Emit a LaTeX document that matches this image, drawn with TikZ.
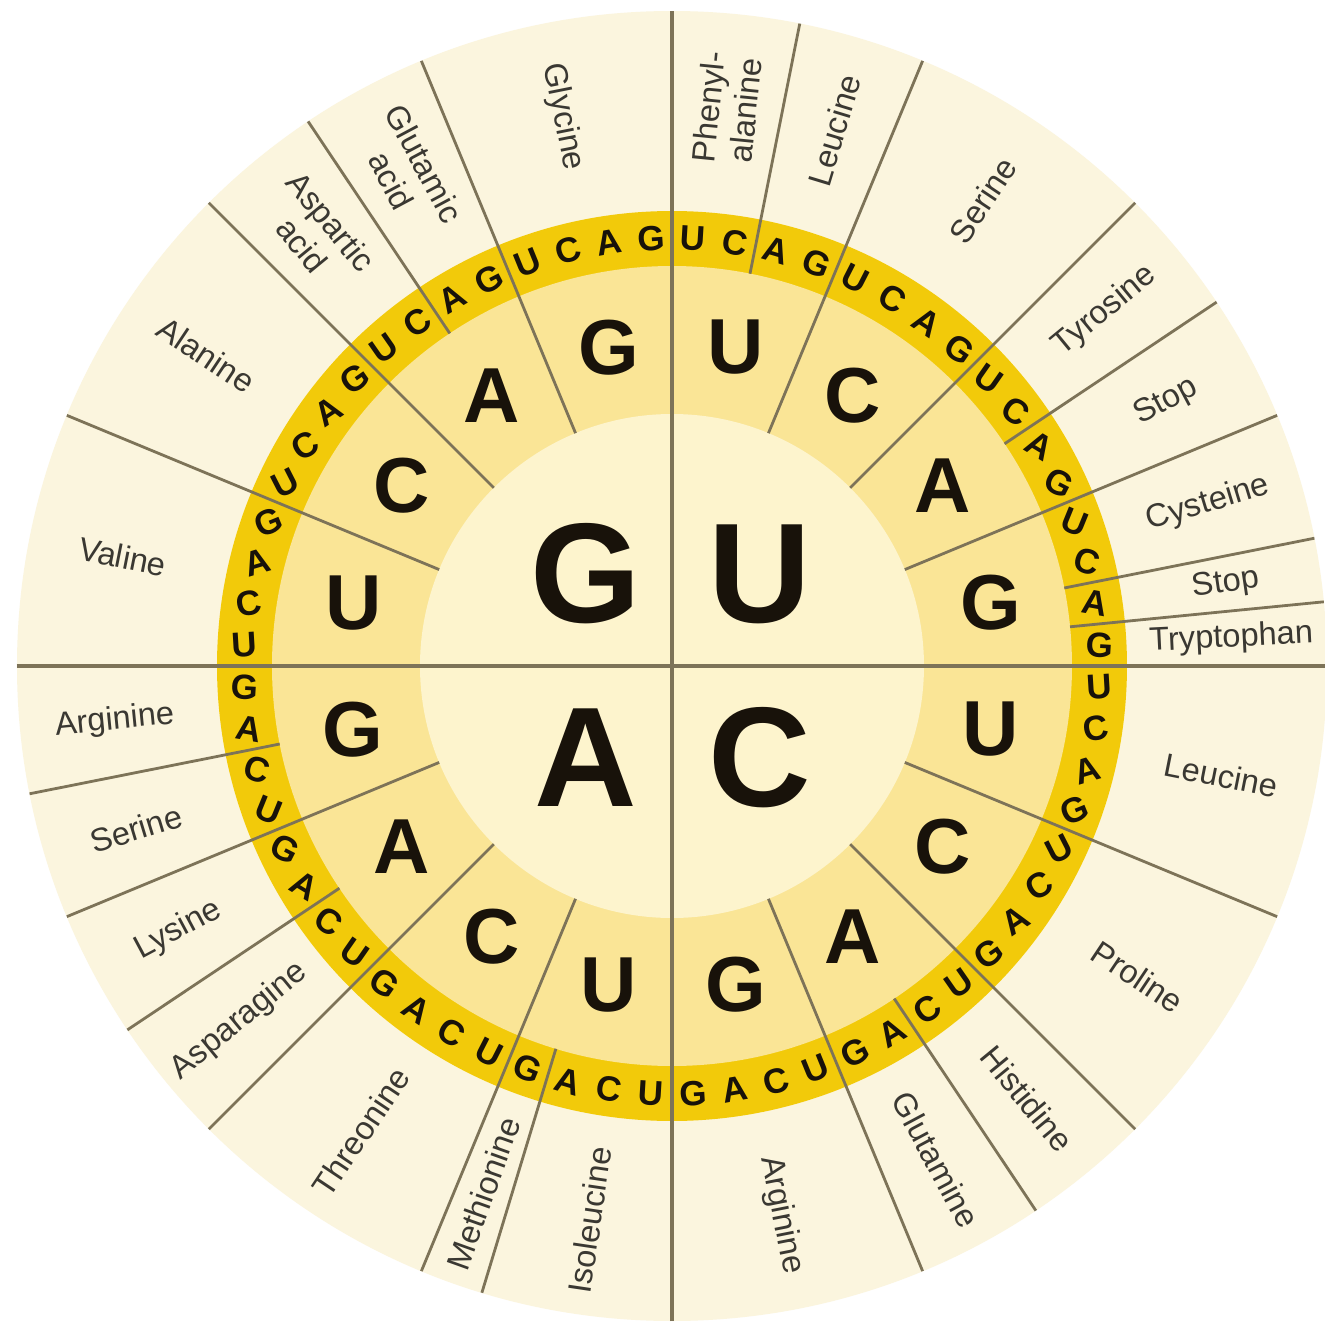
\documentclass[tikz,border=0pt]{standalone}
\usepackage{fontspec}
\setmainfont{Liberation Sans}
\definecolor{outerc}{RGB}{251,245,222}
\definecolor{bandc}{RGB}{242,202,10}
\definecolor{ringc}{RGB}{250,229,150}
\definecolor{innerc}{RGB}{253,244,205}
\definecolor{linec}{RGB}{125,115,88}
\definecolor{labc}{RGB}{58,56,50}
\definecolor{letc}{RGB}{24,18,10}
\begin{document}
\begin{tikzpicture}[x=0.5pt,y=0.5pt,
  lab/.style={font=\fontsize{16.3}{18.5}\selectfont, text=labc, inner sep=0pt, align=center},
  bandl/.style={font=\bfseries\fontsize{17.5}{17.5}\selectfont, text=letc, inner sep=0pt},
  ringl/.style={font=\bfseries\fontsize{39}{39}\selectfont, text=letc, inner sep=0pt},
  bigl/.style={font=\bfseries\fontsize{71}{71}\selectfont, text=letc, inner sep=0pt},
  qline/.style={draw=linec, line width=2pt},
  sline/.style={draw=linec, line width=1.4pt}]
\useasboundingbox[fill=white] (-672,-664) rectangle (653,666);
% rings
\fill[outerc] (0,0) circle (655);
\fill[bandc] (0,0) circle (455);
\fill[ringc] (0,0) circle (400);
\fill[innerc] (0,0) circle (252);
% quadrant lines
\draw[qline] (-655,0) -- (655,0);
\draw[qline] (0,-655) -- (0,655);
% second-base separators
\foreach \a in {67.5,45,22.5,-22.5,-45,-67.5,-112.5,-135,-157.5,157.5,135,112.5}
  \draw[sline] (\a:252) -- (\a:655);
% amino acid separators
\foreach \a in {78.75,33.75,11.25,5.625,-56.25,-106.875,-146.25,-168.75,123.75}
  \draw[sline] (\a:400) -- (\a:655);
% big letters
\node[bigl] (bigU) at (88,92) {U};
\node[bigl] (bigG) at (-86,92) {G};
\node[bigl] (bigA) at (-86,-92) {A};
\node[bigl] (bigC) at (88,-92) {C};
% second base letters
\foreach \q in {0,1,2,3}{
  \foreach \s/\L in {0/U,1/C,2/A,3/G}{
    \pgfmathsetmacro\ang{90-90*\q-22.5*\s-11.25}
    \node[ringl] (r\q\s) at (\ang:325) {\L};
  }
}
% third base letters
\foreach \q in {0,1,2,3}{
  \foreach \s in {0,1,2,3}{
    \foreach \t/\L in {0/U,1/C,2/A,3/G}{
      \pgfmathsetmacro\ang{90-90*\q-22.5*\s-5.625*\t-2.8125}
      \pgfmathsetmacro\rot{-35*sin(2*\ang)}
      \node[bandl, rotate=\rot] (b\q\s\t) at (\ang:428) {\L};
    }
  }
}
% amino acid labels
\foreach \a/\txt [count=\i] in {84.375/{Phenyl-\\alanine}, 73.125/Leucine, 56.25/Serine,
  39.375/Tyrosine, 28.125/Stop, 16.875/Cysteine, 8.4375/Stop, 2.8125/Tryptophan,
  -11.25/Leucine, -33.75/Proline, -50.625/Histidine, -61.875/Glutamine, -78.75/Arginine,
  -98.4375/Isoleucine, -109.6875/Methionine, -123.75/Threonine, -140.625/Asparagine,
  -151.875/Lysine, -163.125/Serine, -174.375/Arginine, 168.75/Valine, 146.25/Alanine,
  129.375/{Aspartic\\acid}, 118.125/{Glutamic\\acid}, 101.25/Glycine}{
  \pgfmathsetmacro\rot{ifthenelse(cos(\a)>0,\a,\a+180)}
  \node[lab, rotate=\rot] (lab\i) at (\a:560) {\txt};
}
\end{tikzpicture}
\end{document}
